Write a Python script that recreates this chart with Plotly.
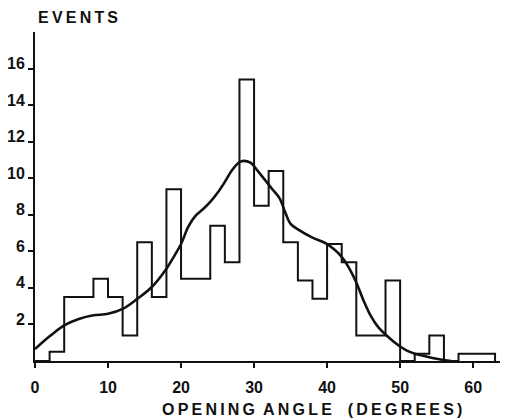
import plotly.graph_objects as go

# Histogram bin edges (degrees) and bar heights (events)
bin_edges = [0, 2, 4, 8, 10, 12, 14, 16, 18, 20, 24, 26, 28, 30, 32, 34, 36, 38,
             40, 42, 44, 48, 50, 52, 54, 56, 58, 63]
bin_heights = [0, 0.5, 3.5, 4.5, 3.5, 1.4, 6.5, 3.5, 9.4, 4.5, 7.4, 5.4, 15.4,
               8.5, 10.4, 6.5, 4.4, 3.4, 6.4, 5.4, 1.4, 4.4, 0, 0.4, 1.4, 0, 0.4]

# Smooth fitted curve
curve_x = [0, 2, 4, 6, 8, 10, 12, 14, 16, 18, 19, 20, 21, 22, 23, 24, 25, 26, 27,
           28, 28.6, 29.5, 30.5, 31.5, 32.5, 33.5, 34.3, 35, 36, 38, 40, 41, 42,
           43, 44, 45, 46, 47, 48, 49, 50, 51, 52, 53, 54, 55, 56, 57]
curve_y = [0.65, 1.35, 1.95, 2.3, 2.5, 2.58, 2.85, 3.4, 4.05, 5.05, 5.7, 6.4,
           7.35, 7.95, 8.3, 8.7, 9.2, 9.8, 10.45, 10.88, 10.95, 10.85, 10.4,
           9.9, 9.4, 8.9, 8.1, 7.5, 7.2, 6.75, 6.4, 6.1, 5.7, 5.1, 4.3, 3.3,
           2.45, 1.85, 1.45, 1.1, 0.8, 0.55, 0.4, 0.3, 0.2, 0.12, 0.05, 0.0]

y_tick_vals = [2, 4, 6, 8, 10, 12, 14, 16]
x_tick_vals = [0, 10, 20, 30, 40, 50, 60]

INK = "#111111"
FONT = "Liberation Sans"
TS = "\u2009"  # thin space for letter spacing


def spaced(s):
    return TS.join(list(s))


# build step outline from edges/heights
step_x = list(bin_edges)
step_y = list(bin_heights) + [0]

fig = go.Figure()
fig.add_trace(go.Scatter(
    x=step_x, y=step_y, mode="lines", line_shape="hv",
    line=dict(color=INK, width=2), hoverinfo="skip", showlegend=False,
))
fig.add_trace(go.Scatter(
    x=curve_x, y=curve_y, mode="lines", line_shape="spline",
    line=dict(color=INK, width=2.6, smoothing=1.0), hoverinfo="skip",
    showlegend=False,
))

x_title = spaced("OPENING") + "\u2002" + spaced("ANGLE") + "\u2003" + spaced("(DEGREES)")

# The page body has an 8px default margin, so the figure is 8px smaller
fig.update_layout(
    template="none",
    width=500, height=410,
    margin=dict(l=27, r=2, t=24, b=57, pad=0),
    paper_bgcolor="white", plot_bgcolor="white",
    font=dict(family=FONT, color=INK, size=16, weight="bold"),
    xaxis=dict(
        range=[0, 64.5], tickvals=x_tick_vals, ticks="outside", ticklen=5,
        tickwidth=1.5, tickcolor=INK, showgrid=False, zeroline=False,
        showline=True, linecolor=INK, linewidth=2, automargin=False,
        ticklabelstandoff=6,
        tickfont=dict(family=FONT, size=16, color=INK, weight="bold"),
    ),
    yaxis=dict(
        range=[0, 18], tickvals=y_tick_vals, ticks="outside", ticklen=5,
        tickwidth=1.5, tickcolor=INK, showgrid=False, zeroline=False,
        showline=True, linecolor=INK, linewidth=2, automargin=False,
        tickfont=dict(family=FONT, size=16, color=INK, weight="bold"),
        ticklabelshift=-5,
    ),
    annotations=[
        dict(text=spaced("EVENTS"), xref="paper", yref="paper", x=0, y=1,
             xanchor="left", yanchor="bottom", xshift=1, yshift=4,
             showarrow=False,
             font=dict(family=FONT, size=16, color=INK, weight="bold")),
        dict(text=x_title, xref="paper", yref="paper", x=0.588, y=0,
             xanchor="center", yanchor="middle", yshift=-48, showarrow=False,
             font=dict(family=FONT, size=16, color=INK, weight="bold")),
    ],
)

fig.write_html("out.html")
